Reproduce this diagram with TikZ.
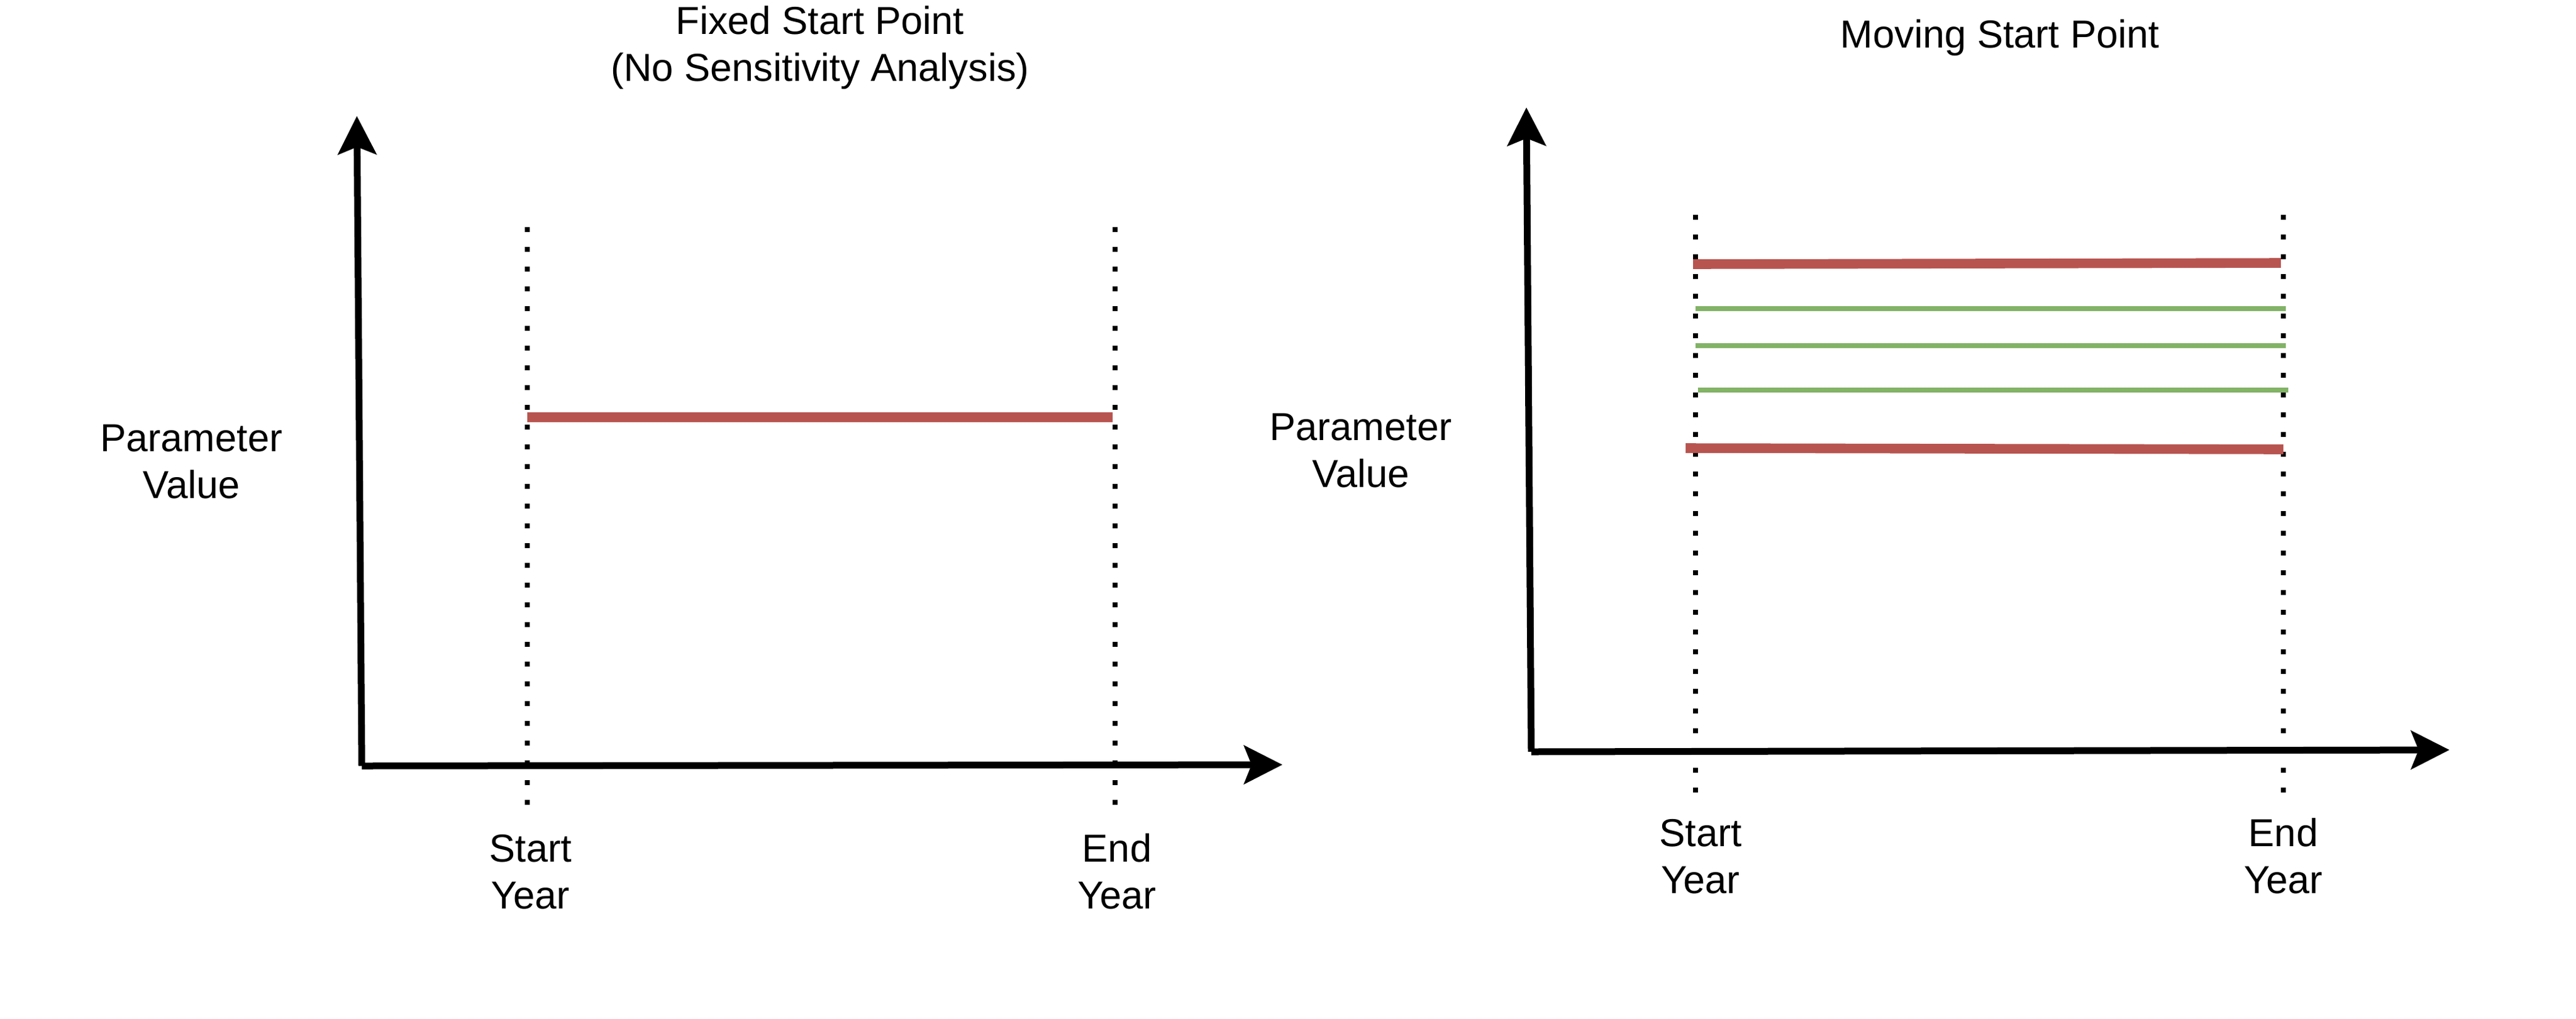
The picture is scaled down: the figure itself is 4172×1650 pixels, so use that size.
\documentclass[tikz,border=0pt]{standalone}
\usepackage{fontspec}
\setmainfont{Liberation Sans}
\usetikzlibrary{arrows.meta}
\definecolor{redline}{HTML}{B85450}
\definecolor{greenline}{HTML}{82B366}
\begin{document}
\begin{tikzpicture}[x=0.25pt,y=-0.25pt,
  axis/.style={line width=2.75pt, -{Stealth[length=15.5pt,width=15.5pt,inset=3pt]}},
  guide/.style={line width=2pt, dash pattern=on 2pt off 6pt},
  redbar/.style={line width=3.9pt, draw=redline},
  greenbar/.style={line width=1.95pt, draw=greenline},
  lbl/.style={font=\fontsize{15.8}{18.9}\selectfont, align=center, inner sep=0pt, anchor=base}]
\useasboundingbox (0,0) rectangle (4172,1650);
% ---------- left panel ----------
\coordinate (O1) at (586,1241);
\coordinate (Y1) at (578,188);
\coordinate (X1) at (2077,1239);
\coordinate (S1t) at (854,368);
\coordinate (S1b) at (854,1304);
\coordinate (E1t) at (1806,368);
\coordinate (E1b) at (1806,1304);
\coordinate (R1a) at (854,676);
\coordinate (R1b) at (1802,676);
\draw[guide] (S1t) -- (S1b);
\draw[guide] (E1t) -- (E1b);
\draw[redbar] (R1a) -- (R1b);
\draw[axis] (O1) -- (Y1);
\draw[axis] (O1) -- (X1);
\node[lbl] (t1) at (1328,131) {Fixed Start Point\\(No Sensitivity Analysis)};
\node[lbl] (pv1) at (310,807) {Parameter\\Value};
\node[lbl] (sy1) at (859,1472) {Start\\Year};
\node[lbl] (ey1) at (1809,1472) {End\\Year};
% ---------- right panel ----------
\coordinate (O2) at (2480,1218);
\coordinate (Y2) at (2472,174);
\coordinate (X2) at (3967,1215);
\coordinate (S2t) at (2746,348);
\coordinate (S2b) at (2746,1284);
\coordinate (E2t) at (3698,348);
\coordinate (E2b) at (3698,1284);
\coordinate (RTa) at (2742,428);
\coordinate (RTb) at (3694,426);
\coordinate (G1a) at (2746,500);
\coordinate (G1b) at (3702,500);
\coordinate (G2a) at (2746,560);
\coordinate (G2b) at (3702,560);
\coordinate (G3a) at (2750,632);
\coordinate (G3b) at (3706,632);
\coordinate (RBa) at (2730,726);
\coordinate (RBb) at (3698,728);
\draw[guide] (S2t) -- (S2b);
\draw[guide] (E2t) -- (E2b);
\draw[redbar] (RTa) -- (RTb);
\draw[greenbar] (G1a) -- (G1b);
\draw[greenbar] (G2a) -- (G2b);
\draw[greenbar] (G3a) -- (G3b);
\draw[redbar] (RBa) -- (RBb);
\draw[axis] (O2) -- (Y2);
\draw[axis] (O2) -- (X2);
\node[lbl] (t2) at (3239,77) {Moving Start Point};
\node[lbl] (pv2) at (2204,789) {Parameter\\Value};
\node[lbl] (sy2) at (2754,1447) {Start\\Year};
\node[lbl] (ey2) at (3698,1447) {End\\Year};
\end{tikzpicture}
\end{document}
